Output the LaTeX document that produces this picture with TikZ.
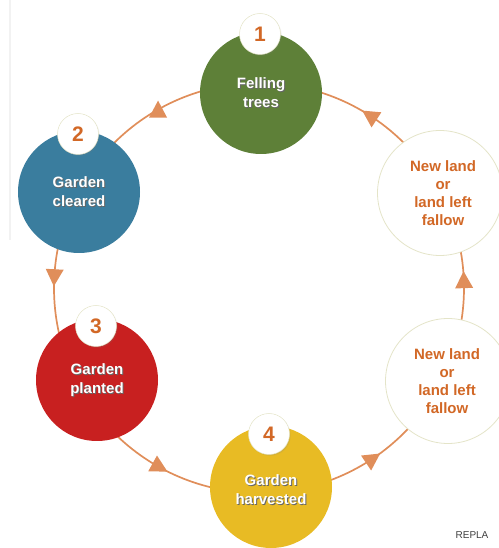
\documentclass[tikz,border=0pt]{standalone}
\usepackage{fontspec}
\setmainfont{Liberation Sans}
\usepackage{xcolor}
\usetikzlibrary{calc,shadows}
\definecolor{leafgreen}{RGB}{94,128,56}
\definecolor{seablue}{RGB}{58,125,158}
\definecolor{soilred}{RGB}{200,32,32}
\definecolor{cropyellow}{RGB}{232,187,36}
\definecolor{ringorange}{RGB}{224,142,90}
\definecolor{txtorange}{RGB}{210,104,38}
\definecolor{rimbeige}{RGB}{228,228,200}
\newcommand{\stageR}{61}
\newcommand{\ringR}{205}
\tikzstyle{stage}=[circle, minimum size=2*\stageR, inner sep=0pt]
\tikzstyle{fallow}=[stage, fill=white, draw=rimbeige, line width=0.8pt, minimum size=125]
\tikzstyle{badge}=[circle, fill=white, draw=rimbeige, line width=0.5pt, minimum size=41, inner sep=0pt,
  font=\fontsize{21}{21}\selectfont\bfseries, text=txtorange,
  circular drop shadow={shadow xshift=1pt, shadow yshift=-1.2pt, shadow scale=1.02, opacity=.3}]
\tikzstyle{stagetxt}=[align=center, text=white, font=\fontsize{15}{19}\selectfont\bfseries]
\tikzstyle{stageshade}=[stagetxt, text=black!60]
\tikzstyle{fallowtxt}=[align=center, text=txtorange, font=\fontsize{15}{18}\selectfont\bfseries]
\tikzstyle{ring}=[draw=ringorange, line width=1.7pt]
\tikzset{cyclehead/.pic={\fill[ringorange] (9,0) -- (-8,9) -- (-8,-9) -- cycle;}}

\begin{document}
\begin{tikzpicture}[x=1pt,y=1pt]
\useasboundingbox (0,0) rectangle (498,548);
\draw[black!5, line width=2] (10,548) -- (10,308);
% the cycle
\coordinate (hub) at (259,260);
\draw[ring] (hub) circle[radius=\ringR];
\pic[rotate=90]  at ($(hub)+(119.5:\ringR)$) {cyclehead};
\pic[rotate=267] at ($(hub)+(177:\ringR)$) {cyclehead};
\pic[rotate=331] at ($(hub)+(241:\ringR)$) {cyclehead};
\pic[rotate=34]  at ($(hub)+(303.7:\ringR)$) {cyclehead};
\pic[rotate=92]  at ($(hub)+(2.2:\ringR)$) {cyclehead};
\pic[rotate=147] at ($(hub)+(57.3:\ringR)$) {cyclehead};
% stages
\node[stage, fill=leafgreen] (fell) at (261,455) {};
\node[stageshade] at ($(fell)+(1,-1)$) {Felling\\trees};
\node[stagetxt] (fell-txt) at (fell) {Felling\\trees};
\node[badge] (fell-num) at (260,514) {1};

\node[stage, fill=seablue] (clear) at (79,356) {};
\node[stageshade] at ($(clear)+(1,-1)$) {Garden\\cleared};
\node[stagetxt] (clear-txt) at (clear) {Garden\\cleared};
\node[badge] (clear-num) at (78,414) {2};

\node[stage, fill=soilred] (plant) at (97,168) {};
\node[stageshade] at ($(plant)+(1,-1)$) {Garden\\planted};
\node[stagetxt] (plant-txt) at (plant) {Garden\\planted};
\node[badge] (plant-num) at (96,222) {3};

\node[stage, fill=cropyellow] (harvest) at (271,61) {};
\node[stageshade] at ($(harvest)+(1,-3.5)$) {Garden\\harvested};
\node[stagetxt] (harvest-txt) at ($(harvest)+(0,-2.5)$) {Garden\\harvested};
\node[badge] (harvest-num) at (269,114) {4};

\node[fallow] (fallowtop) at (440,355) {};
\node[fallowtxt] (fallowtop-txt) at ($(fallowtop)+(3,0)$) {New land\\or\\land left\\fallow};
\node[fallow] (fallowlow) at (448,167) {};
\node[fallowtxt] (fallowlow-txt) at ($(fallowlow)+(-1,0)$) {New land\\or\\land left\\fallow};

\node[font=\fontsize{10}{10}\selectfont, text=black!75] (mark) at (472,13) {REPLA};
\end{tikzpicture}
\end{document}
